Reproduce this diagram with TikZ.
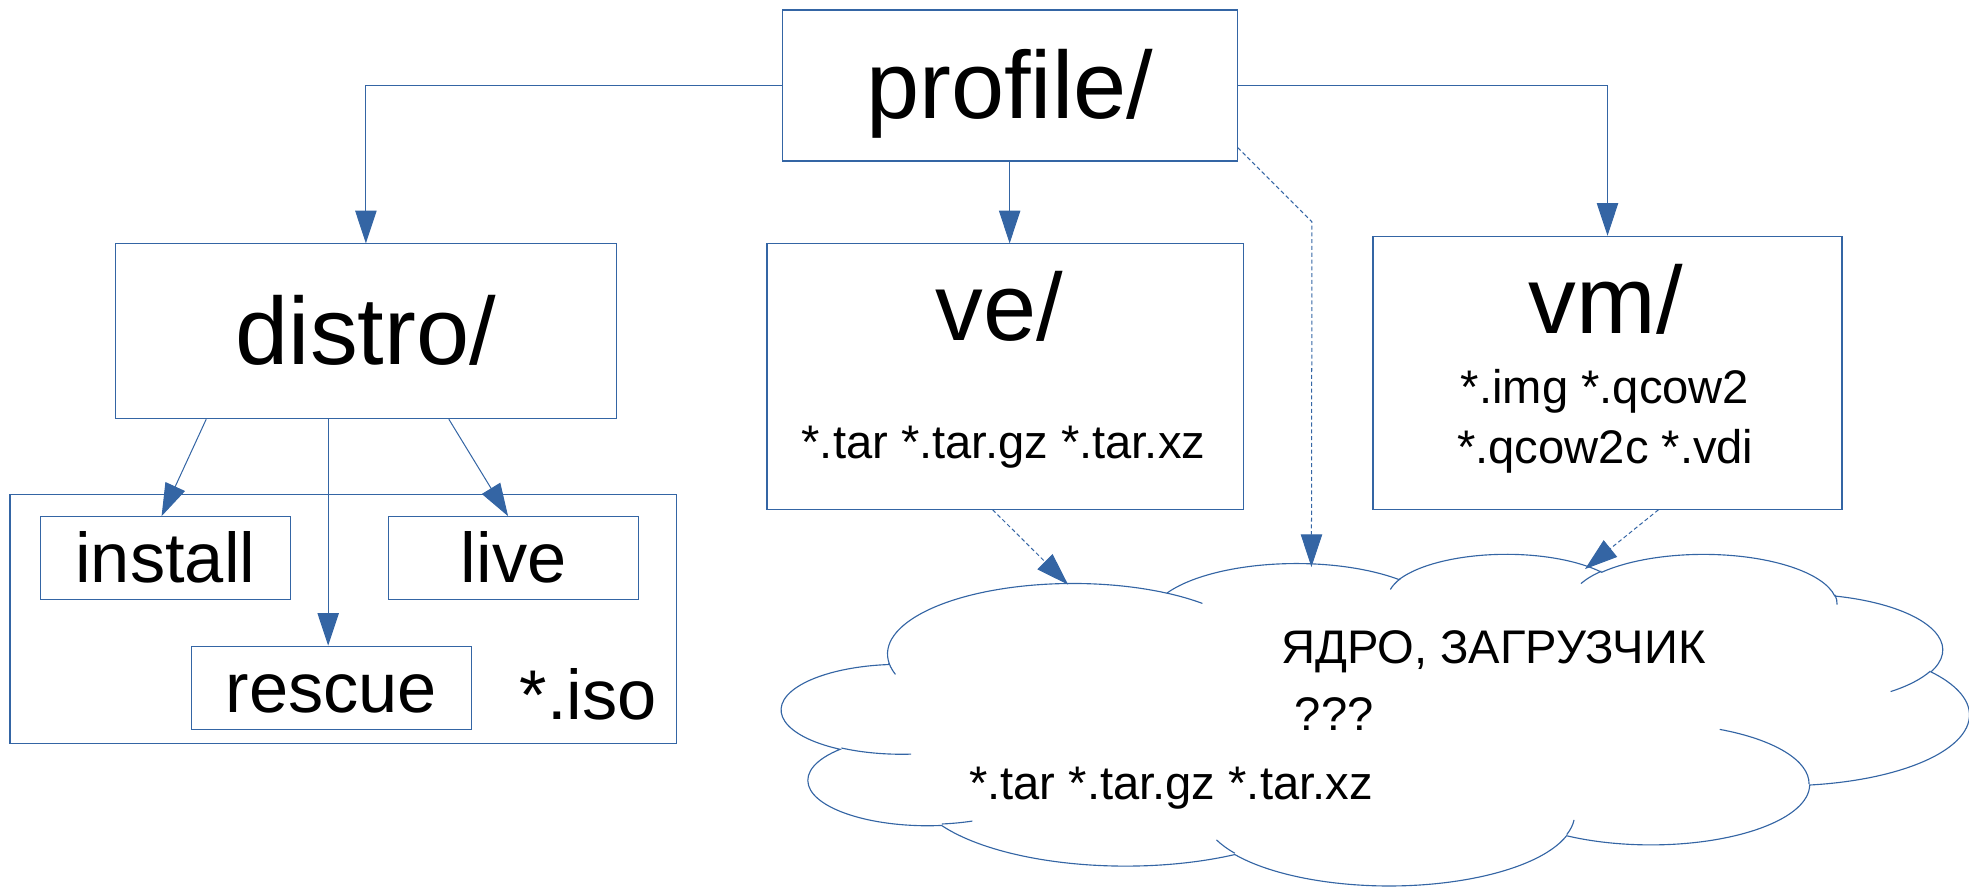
\documentclass[tikz,border=0pt]{standalone}
\usepackage{fontspec}
\setmainfont{Liberation Sans}
\usetikzlibrary{arrows.meta,positioning}
\definecolor{lobl}{HTML}{3465A4}
\newcommand\cloudarc[4]{arc[x radius=#1, y radius=#2, start angle={atan2(#1*sin(#3),#2*cos(#3))}, delta angle={mod(atan2(#1*sin(#3+#4),#2*cos(#3+#4))-atan2(#1*sin(#3),#2*cos(#3))+720,360)}]}

\begin{document}
\begin{tikzpicture}[x=1pt,y=-1pt,on grid,
		box/.style={draw=lobl, line width=0.9pt, inner sep=0pt},
		big/.style={font=\fontsize{76}{80}\selectfont, text height=68.8pt, text depth=16.1pt},
		mid/.style={font=\fontsize{56}{60}\selectfont, text height=50.7pt, text depth=11.9pt},
		small/.style={font=\fontsize{37.5}{40}\selectfont},
		arr/.style={draw=lobl, line width=0.8pt, -{Triangle[length=26pt,width=17pt]}},
		dasharr/.style={arr, dash pattern=on 3.2pt off 2.2pt},
		cloudline/.style={draw=lobl, line width=0.9pt}]
		\useasboundingbox (0,0) rectangle (1566,705.5);
		\node[box, big, minimum width=362pt, minimum height=120pt] (profile) at (803,68) {profile/};
		\node[box, big, minimum width=398pt, minimum height=139pt] (distro) at (291,263.5) {distro/};
		\node[box, minimum width=379pt, minimum height=211pt] (ve) at (799.5,299.5) {};
		\node[box, minimum width=373pt, minimum height=217pt] (vm) at (1278.5,296.5) {};
		\node[box, minimum width=530pt, minimum height=198pt] (iso) at (273,492) {};
		\node[box, mid, minimum width=199pt, minimum height=66pt] (install) at (131.5,444) {install};
		\node[box, mid, minimum width=199pt, minimum height=66pt] (live) [right=277pt of install] {live};
		\node[box, mid, minimum width=223pt, minimum height=66pt] (rescue) at (263.5,547) {rescue};
		\node[mid, anchor=base] (isotext) at (468,572) {*.iso};
		\node[big, anchor=base] (vetitle) at (795,271) {ve/};
		\node[small, anchor=base] (vefiles) at (798,364.5) {*.tar *.tar.gz *.tar.xz};
		\node[big, anchor=base] (vmtitle) at (1277.2,265.1) {vm/};
		\node[small, anchor=base] (vmfiles) at (1276.5,320.8) {*.img *.qcow2};
		\node[small, anchor=base] (vmmore) at (1276.8,369) {*.qcow2c *.vdi};
		\begin{scope}[shift={(622,440)}, x=0.021852pt, y=-0.0061111pt]
			\draw[cloudline] (3900,14370)
				\cloudarc{6753}{9190}{-190.487483}{123.780533}
				\cloudarc{5333}{7267}{-144.102383}{89.945233}
				\cloudarc{4365}{5945}{-145.807917}{99.723017}
				\cloudarc{4857}{6595}{-130.986067}{117.241733}
				\cloudarc{5333}{7273}{-78.708883}{109.026917}
				\cloudarc{6775}{9220}{-46.26725}{130.269}
				\cloudarc{5785}{7867}{0.625017}{114.033333}
				\cloudarc{6752}{9215}{22.4516}{115.17255}
				\cloudarc{7720}{10543}{66.242633}{75.711017}
				\cloudarc{4360}{5918}{-274.942083}{146.735567}
				\cloudarc{4345}{5945}{-246.8285}{152.51885}
				-- cycle;
			\draw[cloudline]
				(4693,26177) \cloudarc{4345}{5945}{86.742}{26.4295}
				(6928,34899) \cloudarc{4360}{5918}{73.61047}{11.44747}
				(16478,39090) \cloudarc{6752}{9215}{137.62415}{14.0811}
				(28827,34751) \cloudarc{6752}{9215}{6.45327}{15.99835}
				(34129,22954) \cloudarc{5785}{7867}{-70.29235}{70.91737}
				(41798,15354) \cloudarc{5333}{7273}{30.31803}{27.7515}
				(38324,5426) \cloudarc{4857}{6595}{-13.74433}{14.8589}
				(29078,3952) \cloudarc{4857}{6595}{-149.18145}{18.19537}
				(22141,4720) \cloudarc{4365}{5945}{-163.49427}{17.68635}
				(14000,5192) \cloudarc{6753}{9190}{-66.70695}{12.31935}
				(4127,15789) \cloudarc{6753}{9190}{157.65435}{11.85817};
		\end{scope}
		\node[small, anchor=base] (kernel) at (1187.7,527.6) {ЯДРО, ЗАГРУЗЧИК};
		\node[small, anchor=base] (unknown) at (1061.2,581.2) {???};
		\node[small, anchor=base] (tarballs) at (931.3,635.7) {*.tar *.tar.gz *.tar.xz};
		\coordinate (cloudtop) at (1043,451);
		\coordinate (cloudwest) at (849.5,465);
		\coordinate (cloudeast) at (1260.6,452.6);
		\draw[arr] (profile.west) -| (distro.north);
		\draw[arr] (profile.south) -- (profile.south |- ve.north);
		\draw[arr] (profile.east) -| (vm.north);
		\draw[dasharr] ([yshift=11pt]profile.south east) -- ++(59,59) -- (cloudtop);
		\draw[dasharr] ([xshift=-10pt]ve.south) -- (cloudwest);
		\draw[dasharr] ([xshift=40.5pt]vm.south) -- (cloudeast);
		\draw[arr] ([xshift=-127pt]distro.south) -- ([xshift=-3pt]install.north);
		\draw[arr] ([xshift=-30pt]distro.south) -- ([xshift=-2.5pt]rescue.north);
		\draw[arr] ([xshift=66pt]distro.south) -- ([xshift=-4.4pt]live.north);
	\end{tikzpicture}
\end{document}
